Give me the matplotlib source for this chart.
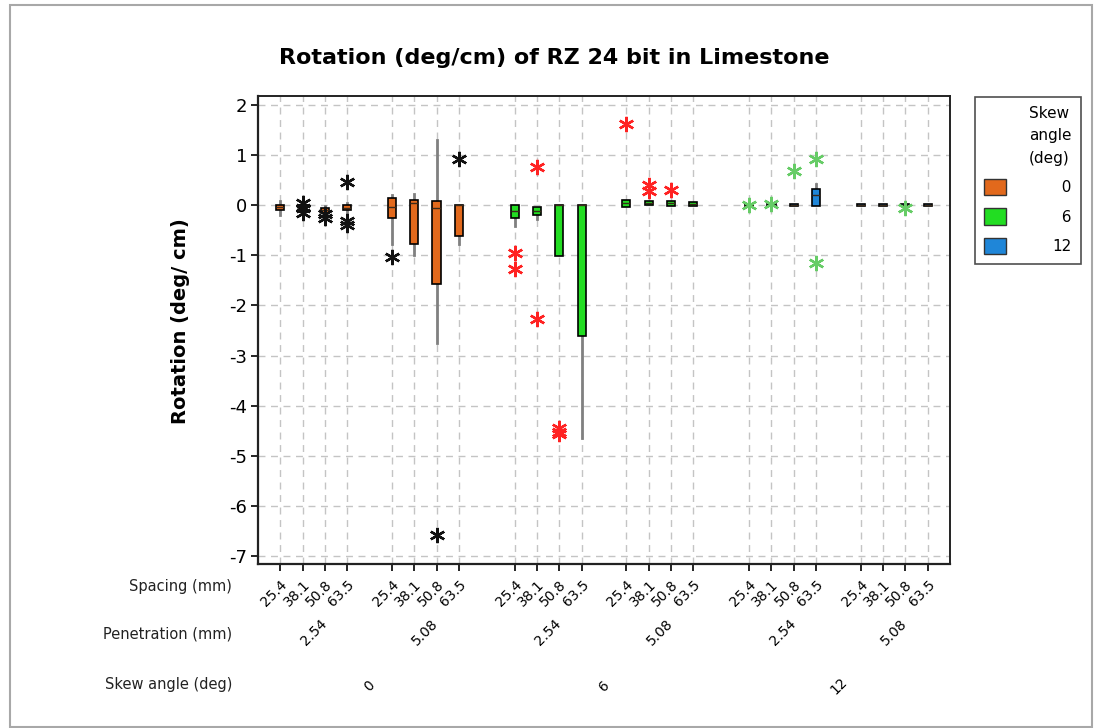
import matplotlib
matplotlib.use("Agg")
import matplotlib.pyplot as plt
from matplotlib.patches import Patch, Rectangle

# ---------------- data ----------------
skew_angles = ["0", "6", "12"]
penetrations = ["2.54", "5.08"]
spacings = ["25.4", "38.1", "50.8", "63.5"]

# per box, ordered skew -> penetration -> spacing
q1 = [-0.09, -0.08, -0.15, -0.10,   -0.26, -0.78, -1.57, -0.62,
      -0.25, -0.20, -1.02, -2.60,   -0.03, 0.01, -0.02, -0.02,
      -0.02, -0.01, -0.02, -0.02,   -0.02, -0.02, -0.02, -0.02]
med = [-0.03, -0.04, -0.10, -0.05,  -0.03, 0.05, -0.05, 0.00,
       -0.12, -0.12, 0.00, 0.00,    0.04, 0.05, 0.04, 0.02,
       0.00, 0.00, 0.00, 0.20,      0.00, 0.00, 0.00, 0.00]
q3 = [0.01, 0.00, -0.05, 0.01,      0.14, 0.11, 0.08, 0.00,
      0.01, -0.03, 0.00, 0.00,      0.10, 0.08, 0.09, 0.07,
      0.02, 0.02, 0.02, 0.33,       0.02, 0.02, 0.02, 0.02]
whislo = [-0.20, -0.12, -0.18, -0.14, -0.78, -1.00, -2.75, -0.78,
          -0.41, -0.28, -1.02, -4.65,  -0.03, 0.01, -0.02, -0.02,
          -0.02, -0.01, -0.02, -0.02,  -0.02, -0.02, -0.02, -0.02]
whishi = [0.08, 0.02, -0.02, 0.05,  0.21, 0.22, 1.31, 0.00,
          0.01, -0.03, 0.00, 0.00,  0.10, 0.08, 0.09, 0.07,
          0.02, 0.02, 0.02, 0.42,   0.02, 0.02, 0.02, 0.02]
fliers = [[], [0.05, -0.05, -0.15], [-0.18, -0.25], [0.46, -0.32, -0.40],
          [-1.03], [], [-6.58], [0.93],
          [-0.96, -1.28], [0.77, -2.27], [-4.45, -4.52, -4.56], [],
          [1.62], [0.40, 0.28], [0.30], [],
          [0.00], [0.03], [0.68], [0.93, -1.16],
          [], [], [-0.05], []]

box_colors = {"0": "#e2691c", "6": "#22dd22", "12": "#1f86d8"}
flier_colors = {"0": "#111111", "6": "#ff2222", "12": "#66cc66"}

# ---------------- positions ----------------
positions = []
labels_spacing = []
box_skew = []
pen_centers = []
pen_labels = []
skew_centers = []
x = 0.0
for si, sk in enumerate(skew_angles):
    grp = []
    for pi, pe in enumerate(penetrations):
        pg = []
        for sp in spacings:
            positions.append(x)
            labels_spacing.append(sp)
            box_skew.append(sk)
            pg.append(x)
            x += 1.0
        pen_centers.append(sum(pg) / len(pg))
        pen_labels.append(pe)
        grp.extend(pg)
        x += 1.0
    skew_centers.append(sum(grp) / len(grp))
    x += 0.5

# ---------------- figure ----------------
W, H = 1094, 728
fig = plt.figure(figsize=(W / 100, H / 100), dpi=100)
ax = fig.add_axes([258 / W, 1 - 564 / H, (950 - 258) / W, (564 - 96) / H])

stats = []
for i in range(len(positions)):
    stats.append(dict(q1=q1[i], med=med[i], q3=q3[i], whislo=whislo[i],
                      whishi=whishi[i], fliers=[]))

bp = ax.bxp(stats, positions=positions, widths=0.37, patch_artist=True,
            showcaps=False, showfliers=False, manage_ticks=False,
            boxprops=dict(edgecolor="black", linewidth=1.2),
            whiskerprops=dict(color="#808080", linewidth=2.0),
            medianprops=dict(color="#3a2a1a", linewidth=1.0))
for patch, sk in zip(bp["boxes"], box_skew):
    patch.set_facecolor(box_colors[sk])
    patch.set_zorder(3)
for w in bp["whiskers"]:
    w.set_zorder(2)
for m in bp["medians"]:
    m.set_zorder(4)

for pos, fl, sk in zip(positions, fliers, box_skew):
    if fl:
        ax.plot([pos] * len(fl), fl, linestyle="none", marker=(6, 2, 0),
                markersize=11, markeredgewidth=1.7,
                markeredgecolor=flier_colors[sk], zorder=5)

ax.set_xlim(-1.0, positions[-1] + 1.0)
ax.set_ylim(-7.16, 2.18)
ax.set_yticks(range(-7, 3))
ax.set_yticklabels([str(v) for v in range(-7, 3)], fontsize=13)
ax.set_xticks(positions)
ax.set_xticklabels(labels_spacing, rotation=45, ha="right",
                   rotation_mode="anchor", fontsize=10)
ax.tick_params(axis="x", length=5, width=1.2, pad=5)
ax.tick_params(axis="y", length=5, width=1.2, pad=3)

ax.grid(True, color="#c4c4c4", linestyle=(0, (5, 4)), linewidth=1.0)
ax.set_axisbelow(True)
for s in ax.spines.values():
    s.set_color("#222222")
ax.spines["left"].set_linewidth(1.6)
ax.spines["bottom"].set_linewidth(1.6)
ax.spines["top"].set_linewidth(1.4)
ax.spines["right"].set_linewidth(1.4)

ax.set_ylabel("Rotation (deg/ cm)", fontsize=14, fontweight="bold")
ax.yaxis.set_label_coords(-0.098, 0.52)

# multi-level x labels
trans = ax.get_xaxis_transform()
for c, lab in zip(pen_centers, pen_labels):
    ax.text(c, -0.145, lab, transform=trans, rotation=45, ha="center",
            va="center", fontsize=10)
for c, lab in zip(skew_centers, skew_angles):
    ax.text(c, -0.26, lab, transform=trans, rotation=45, ha="center",
            va="center", fontsize=10)

fig.text(232 / W, 1 - 586 / H, "Spacing (mm)", ha="right", va="center",
         fontsize=10.5, color="#222222")
fig.text(232 / W, 1 - 634 / H, "Penetration (mm)", ha="right", va="center",
         fontsize=10.5, color="#222222")
fig.text(232 / W, 1 - 685 / H, "Skew angle (deg)", ha="right", va="center",
         fontsize=10.5, color="#222222")

fig.text(554 / W, 1 - 58 / H, "Rotation (deg/cm) of RZ 24 bit in Limestone",
         ha="center", va="center", fontsize=16, fontweight="bold")

# legend
handles = [Patch(facecolor=box_colors[s], edgecolor="#333333", linewidth=1.0)
           for s in skew_angles]
lab_txt = ["\u2007" + s if len(s) == 1 else s for s in skew_angles]
leg = fig.legend(handles, lab_txt, title="Skew\nangle\n(deg)",
                 loc="upper left", bbox_to_anchor=(975 / W, 1 - 97 / H),
                 frameon=True, fancybox=False, fontsize=11,
                 title_fontsize=11, handlelength=1.45, handleheight=1.3,
                 handletextpad=3.0, borderpad=0.6, labelspacing=0.85,
                 borderaxespad=0)
leg.get_title().set_linespacing(1.6)
leg.get_frame().set_edgecolor("#222222")
leg.get_frame().set_linewidth(1.2)
leg._legend_box.align = "right"

# outer border
fig.patches.append(Rectangle((10 / W, 1 / H), (1092 - 10) / W, (722) / H,
                             transform=fig.transFigure, fill=False,
                             edgecolor="#a8a8a8", linewidth=1.5))

fig.savefig("out.png", dpi=100)
